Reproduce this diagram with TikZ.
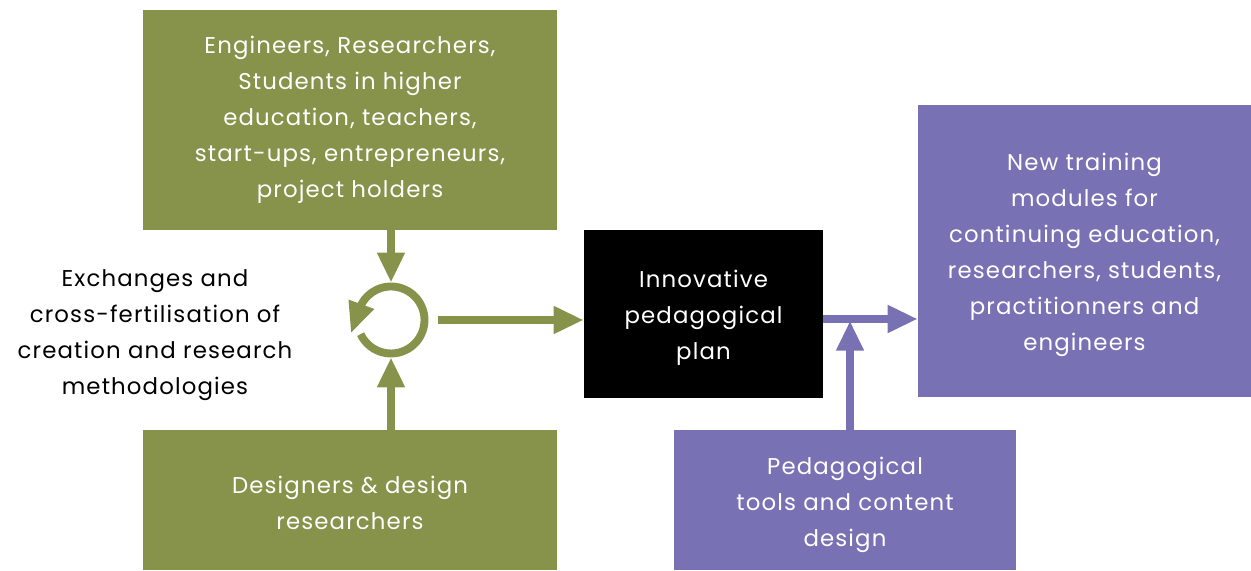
\documentclass[tikz,border=0pt]{standalone}
\usepackage{fontspec}
\setmainfont{Poppins}[LetterSpace=5]
\usepackage{tikz}
\usetikzlibrary{arrows.meta,bending}

\definecolor{olive}{RGB}{135,146,74}
\definecolor{lavender}{RGB}{120,114,180}

\begin{document}
\begin{tikzpicture}[x=0.02cm,y=0.02cm,
    txt/.style={font=\fontsize{13}{20.5}\selectfont,align=center},
    greenbox/.style={txt,fill=olive,text=white,inner sep=0pt},
    purplebox/.style={txt,fill=lavender,text=white,inner sep=0pt},
    greenline/.style={draw=olive,line width=4.5pt,-{Triangle[length=0.6cm,width=0.52cm]}},
    purpleline/.style={draw=lavender,line width=4.5pt,-{Triangle[length=0.6cm,width=0.52cm]}}]
    \useasboundingbox (0,0) rectangle (1251,571);

    \node[greenbox,minimum width=8.28cm,minimum height=4.4cm] (eng) at (350,451)
        {Engineers, Researchers,\\Students in higher\\education, teachers,\\start-ups, entrepreneurs,\\project holders};
    \node[greenbox,minimum width=8.28cm,minimum height=2.8cm] (des) at (350,71)
        {\rule{0pt}{13pt}Designers \& design\\researchers};
    \node[txt,fill=black,text=white,inner sep=0pt,minimum width=4.78cm,minimum height=3.36cm] (plan) at (703.5,257)
        {\rule{0pt}{14pt}Innovative\\pedagogical\\plan};
    \node[purplebox,minimum width=6.66cm,minimum height=5.84cm] (modules) at (1084.5,320)
        {\rule{0pt}{14pt}New training\\modules for\\continuing education,\\researchers, students,\\practitionners and\\engineers};
    \node[purplebox,minimum width=6.84cm,minimum height=2.8cm] (tools) at (845,71)
        {\rule{0pt}{15pt}Pedagogical\\tools and content\\design};
    \node[txt] (exch) at (155,236)
        {Exchanges and\\cross-fertilisation of\\creation and research\\methodologies};

    % cycle
    \node[circle,minimum size=1.48cm,inner sep=0pt] (cycle) at (391,251) {};
    \draw[greenline,-{Triangle[length=0.62cm,width=0.5cm]}]
        ([shift={(205:0.67cm)}]cycle.center) arc[start angle=205,end angle=512,radius=0.67cm]
        -- ++(250:0.62cm);

    \coordinate (join) at (850,252);
    \draw[greenline] (eng.south -| cycle) -- (cycle.north);
    \draw[greenline] (des.north -| cycle) -- (cycle.south);
    \draw[greenline] ([xshift=0.94cm]cycle.center) -- (plan.west |- cycle);
    \draw[purpleline] (plan.east |- join) -- (modules.west |- join);
    \draw[purpleline] (tools.north -| join) -- ([yshift=-1pt]join);
\end{tikzpicture}
\end{document}
